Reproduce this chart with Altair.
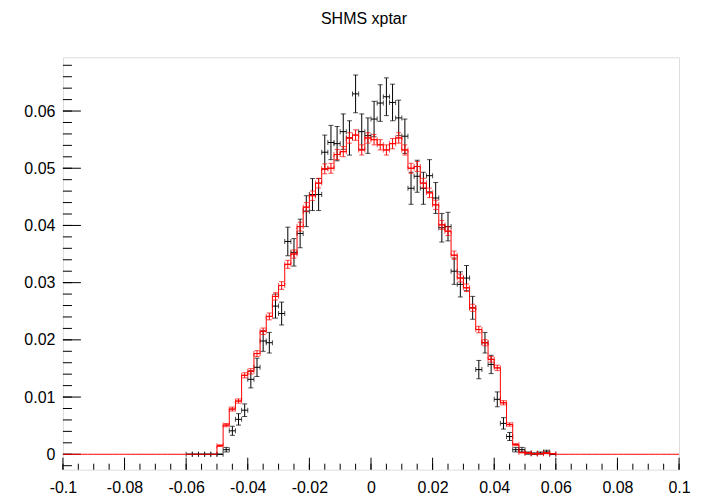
import altair as alt
import pandas as pd

# ---------------- data ----------------
BIN_W = 0.002
X_MIN, X_MAX = -0.1, 0.1
Y_MIN, Y_MAX = -0.0027, 0.0694

# 60 bins from -0.06 to 0.06 (centres -0.059 ... 0.059); outside: empty
centers = [round(-0.059 + BIN_W * i, 3) for i in range(60)]

mc = [0, 0, 0, 0, 0, 0.0015, 0.0051, 0.0079, 0.0093, 0.0138,
      0.0145, 0.0176, 0.0215, 0.0241, 0.0276, 0.0295, 0.0332, 0.0350, 0.0398, 0.0432,
      0.0452, 0.0474, 0.0499, 0.0500, 0.0524, 0.0529, 0.0553, 0.0558, 0.0532, 0.0553,
      0.0550, 0.0541, 0.0532, 0.0543, 0.0553, 0.0532, 0.0500, 0.0503, 0.0474, 0.0457,
      0.0436, 0.0401, 0.0390, 0.0348, 0.0308, 0.0291, 0.0256, 0.0218, 0.0195, 0.0166,
      0.0151, 0.0090, 0.0052, 0.0017, 0.0003, 0.0002, 0.0001, 0.0001, 0.0002, 0.0001]
mc_err = [0, 0, 0, 0, 0, 0.00015, 0.00028, 0.00034, 0.00037, 0.00045,
          0.00047, 0.00051, 0.00057, 0.0006, 0.00064, 0.00067, 0.0007, 0.00072, 0.00077, 0.0008,
          0.00082, 0.00084, 0.00087, 0.00087, 0.00089, 0.00089, 0.00091, 0.00091, 0.00089, 0.00091,
          0.00091, 0.0009, 0.00089, 0.0009, 0.00091, 0.00089, 0.00087, 0.00087, 0.00084, 0.00083,
          0.00081, 0.00078, 0.00076, 0.00072, 0.00068, 0.00066, 0.00062, 0.00057, 0.00054, 0.0005,
          0.00048, 0.00037, 0.00028, 0.00016, 0.00007, 0.00005, 0.00004, 0.00004, 0.00005, 0.00004]

data = [0, 0, 0, 0, 0, 0, 0.0008, 0.0041, 0.0061, 0.0077,
        0.0131, 0.0152, 0.0198, 0.0195, 0.0259, 0.0246, 0.0372, 0.0353, 0.0386, 0.0425,
        0.0454, 0.0454, 0.0528, 0.0545, 0.0543, 0.0564, 0.0553, 0.0630, 0.0564, 0.0557,
        0.0586, 0.0614, 0.0625, 0.0615, 0.0588, 0.0556, 0.0465, 0.0486, 0.0465, 0.0487,
        0.0448, 0.0396, 0.0398, 0.0320, 0.0297, 0.0308, 0.0256, 0.0148, 0.0195, 0.0157,
        0.0096, 0.0054, 0.0031, 0.0008, 0.0008, 0.0002, 0.0001, 0.0002, 0.0004, 0]
data_err = [0, 0, 0, 0, 0, 0, 0.0004, 0.0008, 0.001, 0.0011,
            0.0015, 0.0016, 0.0018, 0.0018, 0.0021, 0.002, 0.0025, 0.0024, 0.0025, 0.0027,
            0.0028, 0.0028, 0.003, 0.003, 0.003, 0.0031, 0.003, 0.0033, 0.0031, 0.0031,
            0.0031, 0.0032, 0.0033, 0.0032, 0.0031, 0.003, 0.0028, 0.0028, 0.0028, 0.0028,
            0.0027, 0.0025, 0.0025, 0.0023, 0.0022, 0.0022, 0.002, 0.0016, 0.0018, 0.0016,
            0.0013, 0.001, 0.0007, 0.0004, 0.0004, 0.0002, 0.00015, 0.0002, 0.0003, 0]

x_major = [-0.1, -0.08, -0.06, -0.04, -0.02, 0, 0.02, 0.04, 0.06, 0.08, 0.1]
y_major = [0, 0.01, 0.02, 0.03, 0.04, 0.05, 0.06]
TITLE = "SHMS xptar"

# ---------------- layout ----------------
W, H = 617, 413
FONT = "Liberation Sans"
RED = "#ff0000"
BLACK = "#000000"

xs = alt.Scale(domain=[X_MIN, X_MAX], nice=False, zero=False)
ys = alt.Scale(domain=[Y_MIN, Y_MAX], nice=False, zero=False)
x_ax = alt.Axis(values=x_major, labelExpr="toString(round(datum.value*100)/100)",
                ticks=False, domain=False, grid=False, labelFont=FONT, labelFontSize=16,
                labelColor="black", labelPadding=10, title=None, labelFlush=False)
y_ax = alt.Axis(values=y_major, labelExpr="toString(round(datum.value*100)/100)",
                ticks=False, domain=False, grid=False, labelFont=FONT, labelFontSize=16,
                labelColor="black", labelPadding=8, title=None, labelFlush=False)

# ---------------- tables ----------------
df = pd.DataFrame({"x": centers, "mc": mc, "mce": mc_err, "d": data, "de": data_err})
df["lo"] = df["x"] - BIN_W / 2
df["hi"] = df["x"] + BIN_W / 2
df["mc_lo"] = df["mc"] - df["mce"]
df["mc_hi"] = df["mc"] + df["mce"]
df["d_lo"] = df["d"] - df["de"]
df["d_hi"] = df["d"] + df["de"]

# full-range step outline of the simulated histogram (empty bins outside data range)
n_full = int(round((X_MAX - X_MIN) / BIN_W))
pad = (n_full - len(mc)) // 2
full_vals = [0.0] * pad + list(mc) + [0.0] * pad
edges = [X_MIN + BIN_W * i for i in range(n_full + 1)]
step_df = pd.DataFrame({"x": edges, "y": full_vals + [full_vals[-1]]})

mc_df = df[df["mc"] > 0]
d_df = df


def X(f):
    return alt.X(f, type="quantitative", scale=xs, axis=x_ax)


def Y(f):
    return alt.Y(f, type="quantitative", scale=ys, axis=y_ax)


def errbars(frame, val, lo, hi, color):
    base = alt.Chart(frame)
    vbar = base.mark_rule(color=color, strokeWidth=1).encode(
        x=X("x"), y=Y(lo), y2=alt.Y2(hi))
    hbar = base.mark_rule(color=color, strokeWidth=1).encode(
        x=X("lo"), x2=alt.X2("hi"), y=Y(val))
    cap_top = base.mark_tick(color=color, orient="horizontal", size=5, thickness=1).encode(
        x=X("x"), y=Y(hi))
    cap_bot = base.mark_tick(color=color, orient="horizontal", size=5, thickness=1).encode(
        x=X("x"), y=Y(lo))
    cap_l = base.mark_tick(color=color, orient="vertical", size=5, thickness=1).encode(
        x=X("lo"), y=Y(val))
    cap_r = base.mark_tick(color=color, orient="vertical", size=5, thickness=1).encode(
        x=X("hi"), y=Y(val))
    return [vbar, hbar, cap_top, cap_bot, cap_l, cap_r]


data_layers = errbars(d_df, "d", "d_lo", "d_hi", BLACK)
mc_line = alt.Chart(step_df).mark_line(color=RED, strokeWidth=1, interpolate="step-after").encode(
    x=X("x"), y=Y("y"))
mc_layers = errbars(mc_df, "mc", "mc_lo", "mc_hi", RED)

# ---------------- inward ticks ----------------
x_minor = [round(X_MIN + 0.005 * i, 3) for i in range(41)]
y_minor = [round(-0.002 + 0.002 * i, 3) for i in range(36)]

xt_major = alt.Chart(pd.DataFrame({"v": x_major})).mark_rule(color="black").encode(
    x=X("v"), y=alt.value(H), y2=alt.value(H - 12))
xt_minor = alt.Chart(pd.DataFrame({"v": x_minor})).mark_rule(color="black").encode(
    x=X("v"), y=alt.value(H), y2=alt.value(H - 6))
yt_major = alt.Chart(pd.DataFrame({"v": y_major})).mark_rule(color="black").encode(
    y=Y("v"), x=alt.value(0), x2=alt.value(18))
yt_minor = alt.Chart(pd.DataFrame({"v": y_minor})).mark_rule(color="black").encode(
    y=Y("v"), x=alt.value(0), x2=alt.value(9))

title = alt.Chart(pd.DataFrame({"t": [TITLE]})).mark_text(
    font=FONT, fontSize=16, color="black", align="center", baseline="alphabetic"
).encode(text="t:N", x=alt.value(W / 2 - 7), y=alt.value(-33))

chart = alt.layer(
    xt_minor, xt_major, yt_minor, yt_major,
    *data_layers, mc_line, *mc_layers, title,
).properties(
    width=W, height=H,
    padding={"left": 55, "top": 49, "right": 40, "bottom": 28},
    autosize=alt.AutoSizeParams(type="none"),
).configure_view(
    stroke="black", strokeWidth=1
).configure(background="white")

chart.save("out.html", embed_options={"renderer": "svg", "actions": False})
